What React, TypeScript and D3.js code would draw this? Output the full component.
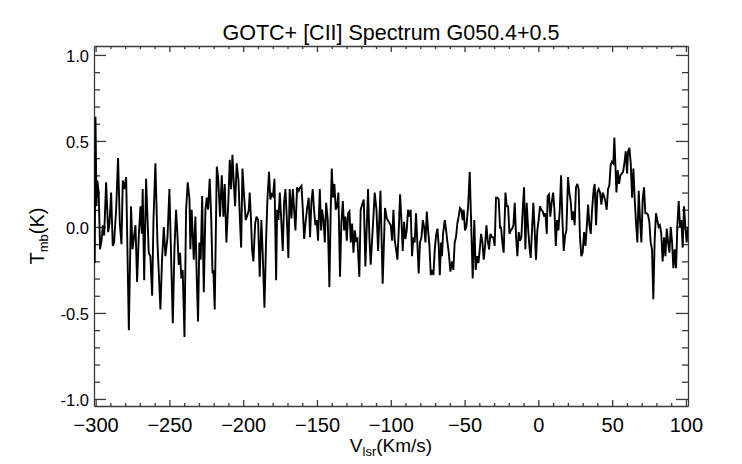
import React, { useEffect, useRef } from 'react'
import * as d3 from 'd3'

type Pt = [number, number]

// [CII] spectrum: [V_lsr (km/s), T_mb (K)]
const seg1: Pt[] = [
  [-300.6, -0.21], [-300.1, 0.64], [-299.4, 0.12], [-298.8, 0.27], [-297.9, 0.20], [-297.0, -0.13],
  [-296.0, -0.08], [-295.1, 0.01], [-294.2, -0.05], [-292.9, 0.26], [-291.5, -0.03], [-290.6, 0.02],
  [-289.5, 0.20], [-288.4, -0.11], [-287.5, -0.09], [-286.1, 0.10], [-284.8, 0.40], [-283.6, 0.02],
  [-282.5, -0.10], [-281.6, 0.27], [-280.7, 0.22], [-279.3, 0.29], [-277.5, -0.60], [-276.0, 0.12],
  [-275.0, -0.13], [-273.9, -0.05], [-273.0, 0.01], [-271.9, -0.32], [-270.8, -0.06], [-269.6, 0.12],
  [-268.7, -0.04], [-268.1, 0.22], [-267.1, -0.31], [-265.8, 0.28], [-264.9, 0.06], [-264.0, -0.15],
  [-262.9, -0.17], [-261.7, -0.40], [-260.8, 0.04], [-259.5, 0.37], [-258.1, -0.09], [-256.1, -0.48],
  [-255.0, -0.19], [-253.8, 0.00], [-252.7, -0.17], [-251.3, -0.06], [-250.0, 0.22], [-249.1, -0.09],
  [-247.7, -0.56], [-246.6, -0.13], [-245.5, 0.10], [-244.6, -0.04], [-243.7, -0.22], [-242.8, -0.15],
  [-241.9, -0.30], [-241.0, -0.25], [-239.8, -0.64], [-238.7, 0.10], [-237.6, 0.26], [-236.4, 0.16],
  [-235.8, -0.13], [-234.9, 0.10]
]
const seg2: Pt[] = [
  [-233.5, -0.19], [-232.4, 0.06], [-231.5, -0.29], [-230.6, -0.55], [-229.7, -0.09], [-228.8, -0.19],
  [-227.8, 0.18], [-226.7, -0.38], [-225.6, 0.10], [-224.7, 0.17], [-223.8, 0.10], [-222.7, 0.28],
  [-221.7, 0.06], [-220.8, -0.27], [-220.2, -0.25], [-219.3, -0.48], [-217.9, 0.35], [-217.0, 0.29],
  [-215.7, 0.06], [-214.5, 0.30], [-213.4, 0.06], [-212.5, 0.25], [-211.4, -0.09], [-210.2, 0.12],
  [-209.1, 0.39], [-208.2, 0.22], [-207.3, 0.42], [-206.4, 0.26], [-205.5, 0.12], [-204.4, 0.37],
  [-203.2, 0.27], [-202.3, 0.06], [-201.4, -0.12], [-200.5, 0.34], [-199.4, 0.18], [-198.3, 0.04],
  [-197.1, 0.07], [-196.2, 0.10], [-195.6, 0.20], [-194.7, 0.04], [-194.0, -0.13], [-193.1, -0.20],
  [-191.9, 0.02], [-191.0, 0.06], [-189.9, 0.04], [-188.8, -0.29], [-187.7, 0.04], [-186.8, -0.15],
  [-185.6, -0.47], [-184.5, -0.08], [-183.6, 0.16], [-182.5, 0.32], [-181.6, 0.16], [-180.7, 0.19],
  [-179.8, 0.18], [-178.8, 0.28], [-177.7, -0.31], [-177.0, 0.10], [-176.1, 0.04], [-175.2, 0.20],
  [-174.1, 0.02], [-173.2, -0.14], [-172.3, 0.14], [-171.4, 0.22], [-170.5, 0.06], [-169.4, -0.18],
  [-168.5, 0.22], [-167.3, 0.05], [-166.4, 0.22]
]
const seg3: Pt[] = [
  [-164.6, -0.02], [-163.5, 0.23], [-162.4, 0.21], [-161.5, 0.23], [-160.5, 0.24], [-159.6, 0.10],
  [-158.7, -0.07], [-157.8, 0.02], [-156.7, 0.11], [-155.6, 0.17], [-154.7, -0.06], [-153.8, 0.14],
  [-152.9, 0.22], [-152.0, 0.10], [-151.1, 0.01], [-150.2, 0.04], [-149.3, -0.08], [-148.1, 0.22],
  [-147.2, -0.02], [-146.6, 0.10], [-145.6, 0.04], [-144.7, -0.09], [-143.8, 0.14], [-142.7, 0.04],
  [-141.6, -0.35], [-140.7, 0.10], [-140.0, 0.34], [-139.1, 0.17], [-138.2, 0.25], [-137.3, 0.10],
  [-136.4, 0.12], [-135.5, 0.20], [-134.4, -0.29], [-133.5, 0.02], [-132.5, 0.15], [-131.6, -0.02],
  [-130.7, 0.06], [-129.8, -0.08], [-128.9, 0.08], [-128.0, 0.09], [-127.1, -0.09], [-126.2, 0.02],
  [-125.3, -0.15], [-124.4, -0.02], [-123.5, -0.08], [-122.6, -0.07], [-121.3, -0.29], [-120.4, 0.10],
  [-119.4, 0.13], [-118.3, 0.16], [-117.2, -0.23], [-115.4, 0.22], [-114.5, -0.06], [-113.6, -0.22],
  [-112.7, -0.08], [-111.5, 0.10], [-110.9, 0.20], [-109.7, 0.10], [-108.6, -0.14], [-107.0, 0.21],
  [-105.5, -0.33], [-103.9, 0.11], [-102.7, 0.05], [-101.4, 0.03], [-100.0, 0.01], [-99.1, -0.08]
]
const seg4: Pt[] = [
  [-98.2, 0.10], [-97.3, -0.08], [-96.4, -0.13], [-95.5, -0.19], [-94.6, -0.02], [-93.7, 0.19],
  [-92.8, 0.04], [-91.9, -0.14], [-91.0, 0.03], [-90.1, -0.07], [-89.2, -0.02], [-88.3, 0.10],
  [-87.4, 0.06], [-86.5, 0.10], [-85.6, -0.17], [-84.7, -0.06], [-83.8, -0.09], [-82.9, 0.08],
  [-82.0, -0.09], [-81.1, -0.27], [-80.2, -0.09], [-79.2, -0.06], [-78.3, 0.04], [-77.4, 0.00],
  [-76.5, -0.09], [-75.6, 0.09], [-74.7, -0.02], [-73.8, -0.11], [-72.9, -0.28], [-72.0, -0.25],
  [-71.1, -0.28], [-70.2, -0.13], [-69.3, -0.05], [-68.4, -0.01], [-67.5, -0.11], [-66.8, -0.28],
  [-65.9, -0.09], [-65.3, -0.17], [-64.6, -0.04], [-63.4, 0.04], [-62.5, -0.02], [-61.6, -0.09],
  [-60.7, -0.15], [-59.6, -0.26], [-58.5, -0.20], [-57.6, -0.25], [-56.7, -0.09], [-55.8, -0.06],
  [-54.9, 0.02], [-54.0, 0.06], [-53.1, 0.11], [-52.2, 0.10], [-51.3, 0.04], [-50.6, 0.10],
  [-49.7, -0.02], [-48.8, 0.00], [-47.6, 0.12], [-46.5, 0.32], [-45.4, -0.02], [-44.5, -0.30],
  [-43.4, 0.04], [-42.5, -0.25], [-41.5, -0.17], [-40.6, -0.21], [-39.7, -0.13], [-38.8, -0.04],
  [-37.9, -0.09], [-37.0, -0.19], [-36.1, -0.11], [-35.2, 0.01], [-34.3, -0.08], [-33.4, -0.13],
  [-32.5, -0.04], [-31.4, -0.06]
]
const seg5: Pt[] = [
  [-30.5, -0.06], [-29.6, -0.11], [-28.7, 0.17], [-27.8, 0.17], [-26.9, 0.16], [-25.9, -0.01],
  [-25.3, 0.00], [-24.4, -0.09], [-23.5, -0.15], [-22.3, 0.20], [-21.4, 0.12], [-20.5, 0.12],
  [-19.6, -0.04], [-18.7, -0.02], [-17.8, -0.01], [-16.9, 0.01], [-16.0, 0.14], [-15.1, -0.06],
  [-14.2, -0.17], [-13.3, -0.03], [-12.4, -0.08], [-11.5, -0.06], [-10.6, 0.10], [-9.7, 0.23],
  [-8.8, -0.13], [-7.9, 0.14], [-7.0, 0.00], [-6.1, -0.11], [-5.2, -0.18], [-4.3, -0.02],
  [-3.4, 0.14], [-2.5, -0.02], [-1.6, -0.19], [-0.7, -0.02], [0.2, 0.04], [1.1, 0.12],
  [2.0, 0.10], [3.0, 0.09], [3.9, 0.06], [4.8, 0.08], [5.7, -0.04], [6.3, 0.18],
  [7.2, 0.19], [8.1, 0.06], [9.0, 0.14], [10.0, 0.20], [10.9, 0.10], [11.8, -0.11],
  [12.7, 0.04], [13.6, -0.02], [14.5, 0.10], [15.4, 0.30], [16.3, 0.04], [17.2, -0.14],
  [18.1, -0.05], [19.0, -0.02], [20.1, 0.29], [21.0, 0.20], [21.9, 0.15], [22.8, 0.04],
  [23.7, 0.09], [24.6, 0.01], [25.5, 0.23], [26.4, 0.25], [27.3, 0.22], [28.2, -0.06],
  [29.1, -0.17], [30.0, -0.15], [31.0, -0.03], [31.9, -0.11], [32.8, 0.00], [33.7, 0.13],
  [34.6, 0.01], [35.5, -0.04], [36.4, 0.10], [37.5, 0.22]
]
const seg6: Pt[] = [
  [38.2, 0.25], [39.1, 0.01], [40.0, 0.20], [40.9, 0.22], [41.8, 0.20], [42.7, 0.13],
  [43.6, 0.20], [44.5, 0.18], [45.4, 0.15], [46.3, 0.10], [47.2, 0.22], [48.1, 0.24],
  [49.0, 0.36], [49.9, 0.38], [50.8, 0.37], [51.5, 0.52], [52.2, 0.36], [52.9, 0.20],
  [53.8, 0.33], [54.7, 0.25], [55.6, 0.30], [56.5, 0.31], [57.4, 0.32], [58.3, 0.37],
  [59.2, 0.44], [60.1, 0.31], [60.8, 0.44], [61.7, 0.46], [62.6, 0.37], [63.5, 0.17],
  [64.4, 0.34], [65.3, 0.16], [66.2, 0.02], [67.1, -0.09], [68.0, 0.21], [68.9, 0.04],
  [69.8, -0.09], [70.7, 0.16], [71.6, 0.23], [72.5, 0.08], [73.4, 0.08], [74.3, 0.07],
  [75.2, 0.03], [76.1, -0.09], [77.0, -0.13], [77.9, -0.42], [78.8, -0.08], [79.7, 0.08],
  [80.6, 0.04], [81.5, 0.00], [82.4, 0.01], [83.3, -0.04], [84.2, -0.20], [85.2, -0.06],
  [86.1, -0.17], [87.0, -0.01], [87.9, -0.09], [88.8, -0.15], [89.7, 0.00], [90.6, -0.09],
  [91.5, -0.24], [92.4, -0.13], [93.3, -0.24], [94.2, 0.01], [95.1, 0.15], [96.0, 0.00],
  [96.9, 0.04], [97.8, -0.12], [98.7, 0.12], [99.6, 0.00], [100.5, -0.09], [101.4, 0.00]
]

const xTicks = [-300, -250, -200, -150, -100, -50, 0, 50, 100]
const yTicks = [-1.0, -0.5, 0.0, 0.5, 1.0]
const xDomain = [-301.1, 101.4]
const yDomain = [-1.041, 1.052]
const title = 'GOTC+ [CII] Spectrum G050.4+0.5'

const W = 742
const H = 464
const FONT = '"Liberation Sans", Arial, Helvetica, sans-serif'
const AXIS = '#3a3a3a'

export default function App() {
  const svgRef = useRef<SVGSVGElement>(null)

  useEffect(() => {
    if (!svgRef.current) return
    const svg = d3.select(svgRef.current)
    svg.selectAll('*').remove()

    const plot = { left: 94, right: 688, top: 46, bottom: 406 }
    const x = d3.scaleLinear().domain(xDomain).range([plot.left, plot.right])
    const y = d3.scaleLinear().domain(yDomain).range([plot.bottom, plot.top])

    const data = [...seg1, ...seg2, ...seg3, ...seg4, ...seg5, ...seg6]

    // minor tick positions (every 10 km/s, every 0.1 K)
    const xMinor = x.ticks(40).filter(v => !xTicks.includes(v))
    const yMinor = y.ticks(20).filter(v => !yTicks.some(t => Math.abs(t - v) < 1e-6))

    const styleAxis = (g: d3.Selection<SVGGElement, unknown, null, undefined>) => {
      g.attr('font-family', FONT)
      g.selectAll('path, line').attr('stroke', AXIS).attr('stroke-width', 1.3)
    }

    // bottom
    svg.append('g')
      .attr('transform', `translate(0,${plot.bottom})`)
      .call(d3.axisBottom(x).tickValues(xTicks).tickSizeInner(-6).tickSizeOuter(0)
        .tickFormat(d => d3.format('d')(d as number)))
      .call(styleAxis)
      .call(g => g.selectAll('text')
        .attr('y', 26).attr('dy', 0).attr('font-size', 20).attr('fill', '#000'))
    svg.append('g')
      .attr('transform', `translate(0,${plot.bottom})`)
      .call(d3.axisBottom(x).tickValues(xMinor).tickSizeInner(-3).tickSizeOuter(0).tickFormat(() => ''))
      .call(styleAxis)
      .call(g => g.select('.domain').remove())

    // top
    svg.append('g')
      .attr('transform', `translate(0,${plot.top})`)
      .call(d3.axisTop(x).tickValues(xTicks).tickSizeInner(-6).tickSizeOuter(0).tickFormat(() => ''))
      .call(styleAxis)
    svg.append('g')
      .attr('transform', `translate(0,${plot.top})`)
      .call(d3.axisTop(x).tickValues(xMinor).tickSizeInner(-3).tickSizeOuter(0).tickFormat(() => ''))
      .call(styleAxis)
      .call(g => g.select('.domain').remove())

    // left
    svg.append('g')
      .attr('transform', `translate(${plot.left},0)`)
      .call(d3.axisLeft(y).tickValues(yTicks).tickSizeInner(-12).tickSizeOuter(0)
        .tickFormat(d => (d as number).toFixed(1)))
      .call(styleAxis)
      .call(g => g.selectAll('text')
        .attr('x', -5).attr('dy', '0.42em').attr('font-size', 16.5).attr('fill', '#000'))
    svg.append('g')
      .attr('transform', `translate(${plot.left},0)`)
      .call(d3.axisLeft(y).tickValues(yMinor).tickSizeInner(-6).tickSizeOuter(0).tickFormat(() => ''))
      .call(styleAxis)
      .call(g => g.select('.domain').remove())

    // right
    svg.append('g')
      .attr('transform', `translate(${plot.right},0)`)
      .call(d3.axisRight(y).tickValues(yTicks).tickSizeInner(-12).tickSizeOuter(0).tickFormat(() => ''))
      .call(styleAxis)
    svg.append('g')
      .attr('transform', `translate(${plot.right},0)`)
      .call(d3.axisRight(y).tickValues(yMinor).tickSizeInner(-6).tickSizeOuter(0).tickFormat(() => ''))
      .call(styleAxis)
      .call(g => g.select('.domain').remove())

    // spectrum
    svg.append('defs').append('clipPath').attr('id', 'plot-clip')
      .append('rect')
      .attr('x', plot.left).attr('y', plot.top)
      .attr('width', plot.right - plot.left).attr('height', plot.bottom - plot.top)

    const line = d3.line<Pt>().x(d => x(d[0])).y(d => y(d[1]))
    svg.append('path')
      .datum(data)
      .attr('clip-path', 'url(#plot-clip)')
      .attr('d', line)
      .attr('fill', 'none')
      .attr('stroke', '#000')
      .attr('stroke-width', 1.9)
      .attr('stroke-linejoin', 'miter')
      .attr('stroke-miterlimit', 3)

    // title
    svg.append('text')
      .attr('x', (plot.left + plot.right) / 2)
      .attr('y', 40)
      .attr('text-anchor', 'middle')
      .attr('font-family', FONT)
      .attr('font-size', 21.5)
      .attr('fill', '#000')
      .text(title)

    // x label
    const xl = svg.append('text')
      .attr('x', (plot.left + plot.right) / 2)
      .attr('y', 452)
      .attr('text-anchor', 'middle')
      .attr('font-family', FONT)
      .attr('font-size', 19)
      .attr('fill', '#000')
    xl.append('tspan').text('V')
    xl.append('tspan').attr('font-size', 13).attr('dy', 4).text('lsr')
    xl.append('tspan').attr('dy', -4).text('(Km/s)')

    // y label
    const yl = svg.append('text')
      .attr('transform', `translate(43.5,236) rotate(-90)`)
      .attr('text-anchor', 'middle')
      .attr('font-family', FONT)
      .attr('font-size', 20)
      .attr('fill', '#000')
    yl.append('tspan').text('T')
    yl.append('tspan').attr('font-size', 13).attr('dy', 4).text('mb')
    yl.append('tspan').attr('dy', -4).text('(K)')
  }, [])

  return (
    <svg
      ref={svgRef}
      width={W}
      height={H}
      style={{ position: 'absolute', left: 0, top: 0, background: '#fff' }}
    />
  )
}
